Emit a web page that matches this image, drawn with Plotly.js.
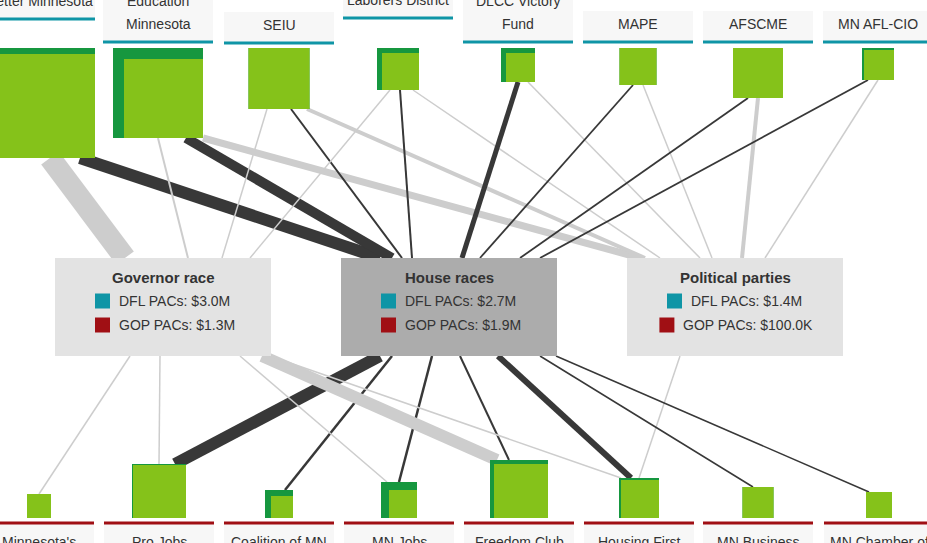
<!DOCTYPE html>
<html>
<head>
<meta charset="utf-8">
<script src="https://cdn.plot.ly/plotly-3.0.1.min.js"></script>
<style>html,body{margin:0;padding:0;background:#fff}#chart{width:927px;height:543px}</style>
</head>
<body>
<div id="chart"></div>
<script>
/* ─── PAC money network ─── */

// DFL PACs (top row)
const topNames = ['Alliance for a|Better Minnesota', 'Education|Minnesota', 'SEIU', 'MN AFL-CIO of|Laborers District',
  'DLCC Victory|Fund', 'MAPE', 'AFSCME', 'MN AFL-CIO'];
const topX = [40, 158, 279, 398, 518, 638, 758, 878];
const topLabelLine = [19, 42, 43, 18, 42, 42, 42, 42];
const topOuter = [110, 90, 61, 42, 34, 37, 50, 32];
const topInner = [104, 79, 61, 37, 29, 37, 50, 30];

// GOP PACs (bottom row)
const botNames = ["Minnesota's|Future", 'Pro Jobs|Majority', 'Coalition of MN|Businesses', 'MN Jobs|Coalition',
  'Freedom Club', 'Housing First', 'MN Business|Partnership', 'MN Chamber of|Commerce'];
const botX = [39, 159, 279, 399, 519, 639, 758, 879];
const botOuter = [24, 54, 28, 36, 58, 40, 31, 26];
const botInner = [24, 53, 22, 28, 54, 38, 31, 26];

// Race boxes
const raceNames = ['Governor race', 'House races', 'Political parties'];
const raceX0 = [55, 341, 627];
const raceFill = ['#e3e3e3', '#acacac', '#e3e3e3'];
const raceDFL = ['$3.0M', '$2.7M', '$1.4M'];
const raceGOP = ['$1.3M', '$1.9M', '$100.0K'];

// links: [row, node index, source x offset, target race, target x, dark?, width]
const links = [
  ['t', 0, 10, 0, 125, false, 22], ['t', 0, 40, 1, 380, true, 12],
  ['t', 1, 0, 0, 188, false, 2], ['t', 1, 28, 1, 392, true, 10], ['t', 1, 45, 2, 640, false, 7],
  ['t', 2, -12, 0, 222, false, 1.5], ['t', 2, 12, 1, 402, true, 2], ['t', 2, 28, 2, 645, false, 4],
  ['t', 3, -8, 0, 250, false, 1.5], ['t', 3, 2, 1, 412, true, 2], ['t', 3, 15, 2, 660, false, 1.5],
  ['t', 4, 0, 1, 462, true, 5], ['t', 4, 10, 2, 700, false, 1.5],
  ['t', 5, -5, 1, 480, true, 1.8], ['t', 5, 5, 2, 712, false, 1.5],
  ['t', 6, -10, 1, 520, true, 1.8], ['t', 6, 0, 2, 742, false, 4],
  ['t', 7, -10, 1, 540, true, 1.8], ['t', 7, 0, 2, 765, false, 1.5],
  ['b', 0, 0, 0, 130, false, 1.5],
  ['b', 1, 0, 0, 160, false, 1.5], ['b', 1, 16, 1, 380, true, 12],
  ['b', 2, 6, 1, 392, true, 2.5],
  ['b', 3, -12, 0, 240, false, 1.5], ['b', 3, 0, 1, 432, true, 2.5],
  ['b', 4, -22, 0, 262, false, 12], ['b', 4, -10, 1, 460, true, 2],
  ['b', 5, -18, 0, 270, false, 1.5], ['b', 5, -8, 1, 498, true, 6], ['b', 5, 0, 2, 680, false, 1.5],
  ['b', 6, -5, 1, 540, true, 1.5],
  ['b', 7, -10, 1, 556, true, 1.5],
];

const GREEN_DARK = '#16973f';
const GREEN = '#85c21a';
const TEAL = '#0f95a6';
const RED = '#a00f14';
const FONT = 'Liberation Sans, Arial, sans-serif';
const LINE_H = 23;

const traces = links.map(l => {
  const [row, i, dx, r, tx, dark, w] = l;
  const sx = (row === 't' ? topX[i] : botX[i]) + dx;
  const sy = row === 't' ? 48 + topOuter[i] : 518 - botOuter[i];
  const ty = row === 't' ? 258 : 356;
  return {
    x: [sx, tx], y: [sy, ty], type: 'scatter', mode: 'lines', hoverinfo: 'skip',
    line: { color: dark ? '#383838' : '#cdcdcd', width: w },
  };
});

const shapes = [];
const annotations = [];

function label(x, y, text) {
  annotations.push({ x: x, y: y, text: text, showarrow: false,
    font: { family: FONT, size: 14, color: '#333' } });
}

topX.forEach((cx, i) => {
  const o = topOuter[i], n = topInner[i];
  shapes.push({ type: 'rect', x0: cx - o / 2, x1: cx + o / 2, y0: 48, y1: 48 + o, fillcolor: GREEN_DARK, line: { width: 0 } });
  shapes.push({ type: 'rect', x0: cx + o / 2 - n, x1: cx + o / 2, y0: 48 + o - n, y1: 48 + o, fillcolor: GREEN, line: { width: 0 } });
  const parts = topNames[i].split('|');
  const ly = topLabelLine[i];
  shapes.push({ type: 'rect', x0: cx - 55, x1: cx + 55, y0: ly - 8 - LINE_H * parts.length, y1: ly, fillcolor: '#f7f7f7', line: { width: 0 } });
  shapes.push({ type: 'line', x0: cx - 55, x1: cx + 55, y0: ly, y1: ly, line: { color: TEAL, width: 3 } });
  parts.forEach((p, k) => label(cx, ly - 18 - LINE_H * (parts.length - 1 - k), p));
});

botX.forEach((cx, i) => {
  const o = botOuter[i], n = botInner[i];
  shapes.push({ type: 'rect', x0: cx - o / 2, x1: cx + o / 2, y0: 518 - o, y1: 518, fillcolor: GREEN_DARK, line: { width: 0 } });
  shapes.push({ type: 'rect', x0: cx + o / 2 - n, x1: cx + o / 2, y0: 518 - n, y1: 518, fillcolor: GREEN, line: { width: 0 } });
  shapes.push({ type: 'rect', x0: cx - 55, x1: cx + 55, y0: 523, y1: 580, fillcolor: '#f7f7f7', line: { width: 0 } });
  shapes.push({ type: 'line', x0: cx - 55, x1: cx + 55, y0: 523, y1: 523, line: { color: RED, width: 3 } });
  botNames[i].split('|').forEach((p, k) => label(cx, 542 + LINE_H * k, p));
});

raceNames.forEach((name, i) => {
  const x0 = raceX0[i];
  shapes.push({ type: 'rect', x0: x0, x1: x0 + 216, y0: 258, y1: 356, fillcolor: raceFill[i], line: { width: 0 } });
  annotations.push({ x: x0 + 108, y: 277, text: '<b>' + name + '</b>', showarrow: false,
    font: { family: FONT, size: 15, color: '#333' } });
  const rows = ['DFL PACs: ' + raceDFL[i], 'GOP PACs: ' + raceGOP[i]];
  const cols = [TEAL, RED];
  rows.forEach((t, k) => {
    const y = 301 + 24 * k;
    const w = t.length * 7.6 + 22;
    const lx = x0 + 108 - w / 2;
    shapes.push({ type: 'rect', x0: lx, x1: lx + 15, y0: y - 7.5, y1: y + 7.5, fillcolor: cols[k], line: { width: 0 } });
    annotations.push({ x: lx + 22, y: y, text: t, showarrow: false, xanchor: 'left',
      font: { family: FONT, size: 14, color: '#333' } });
  });
});

const layout = {
  width: 927, height: 543,
  margin: { t: 0, r: 0, b: 0, l: 0 },
  paper_bgcolor: '#fff', plot_bgcolor: '#fff',
  showlegend: false,
  xaxis: { range: [0, 927], visible: false, fixedrange: true },
  yaxis: { range: [543, 0], visible: false, fixedrange: true },
  shapes: shapes,
  annotations: annotations,
};

Plotly.newPlot('chart', traces, layout, { staticPlot: true });
</script>
</body>
</html>
